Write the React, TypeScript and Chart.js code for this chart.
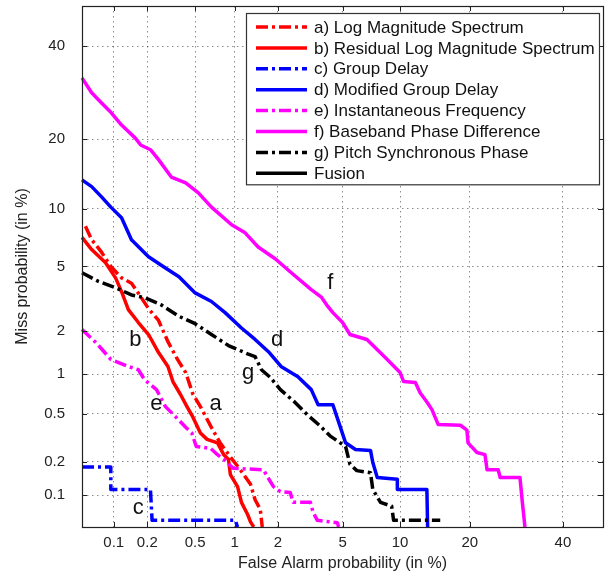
import React, { useEffect, useRef } from 'react';
import { Chart, registerables, LinearScale } from 'chart.js';

Chart.register(...registerables);

// ---------- axis ----------
const TICKS = [0.1, 0.2, 0.5, 1, 2, 5, 10, 20, 40];
const AXIS_MIN = 0.05;
const AXIS_MAX = 50;

// ---------- data (False alarm %, Miss %) ----------
const aFA = [0.054, 0.062, 0.077, 0.094, 0.118, 0.145, 0.171, 0.205, 0.25, 0.3, 0.36, 0.42, 0.48, 0.55, 0.66, 0.78, 0.93, 1.1, 1.3, 1.4, 1.52, 1.57];
const aMiss = [8.2, 7.0, 6.0, 5.0, 4.3, 4.0, 3.4, 2.8, 2.35, 1.7, 1.28, 1.03, 0.71, 0.57, 0.4, 0.29, 0.22, 0.17, 0.126, 0.091, 0.074, 0.05];

const bFA = [0.05, 0.062, 0.084, 0.104, 0.118, 0.136, 0.167, 0.205, 0.25, 0.3, 0.33, 0.38, 0.43, 0.48, 0.55, 0.62, 0.745, 0.83, 0.9, 0.93, 1.05, 1.12, 1.24, 1.3, 1.37];
const bMiss = [7.2, 6.2, 5.25, 4.3, 3.56, 2.76, 2.28, 1.9, 1.43, 1.14, 0.885, 0.71, 0.57, 0.47, 0.35, 0.31, 0.29, 0.23, 0.21, 0.154, 0.12, 0.086, 0.066, 0.056, 0.05];

const cFA = [0.05, 0.094, 0.094, 0.213, 0.22, 1.01, 1.05];
const cMiss = [0.18, 0.18, 0.113, 0.113, 0.058, 0.058, 0.05];

const dFA = [0.05, 0.062, 0.077, 0.094, 0.118, 0.145, 0.205, 0.286, 0.37, 0.5, 0.67, 0.85, 1.12, 1.4, 1.73, 2.1, 2.7, 3.27, 3.6, 4.4, 4.7, 5.2, 5.9, 7.1, 7.3, 7.7, 9.7, 9.7, 13.3, 13.4];
const dMiss = [13.6, 12.7, 11.4, 10.2, 9.06, 7.0, 5.66, 4.9, 4.36, 3.5, 3.1, 2.64, 2.1, 1.76, 1.45, 1.14, 0.96, 0.77, 0.59, 0.59, 0.45, 0.29, 0.255, 0.25, 0.197, 0.145, 0.14, 0.113, 0.113, 0.05];

const eFA = [0.05, 0.068, 0.094, 0.136, 0.167, 0.19, 0.24, 0.286, 0.35, 0.42, 0.47, 0.51, 0.66, 0.745, 0.83, 0.93, 0.98, 1.6, 1.7, 1.87, 2.08, 2.41, 2.52, 3.23, 3.36, 3.56, 4.67, 4.75];
const eMiss = [2.05, 1.68, 1.28, 1.14, 1.08, 0.91, 0.77, 0.57, 0.47, 0.39, 0.35, 0.27, 0.26, 0.23, 0.21, 0.185, 0.175, 0.17, 0.148, 0.12, 0.108, 0.106, 0.086, 0.086, 0.069, 0.058, 0.055, 0.05];

const fFA = [0.05, 0.062, 0.077, 0.095, 0.118, 0.157, 0.175, 0.213, 0.25, 0.32, 0.42, 0.53, 0.67, 0.95, 1.19, 1.47, 1.93, 2.45, 3.27, 3.76, 4.1, 4.4, 5.0, 5.5, 6.8, 7.5, 8.65, 10.0, 10.4, 11.8, 12.4, 13.3, 14.0, 14.9, 18.4, 19.5, 19.7, 21.3, 22.8, 23.2, 25.4, 25.8, 30.0, 30.5, 31.1];
const fMiss = [32.5, 29.2, 27, 25, 22.6, 20.2, 19.0, 18.2, 16.6, 14.0, 13.2, 11.9, 10.2, 8.35, 7.6, 6.4, 5.5, 4.6, 3.66, 3.3, 2.9, 2.64, 2.28, 1.9, 1.76, 1.55, 1.28, 1.03, 0.885, 0.87, 0.73, 0.62, 0.54, 0.41, 0.405, 0.37, 0.29, 0.24, 0.23, 0.17, 0.17, 0.145, 0.145, 0.088, 0.05];

const gFA = [0.05, 0.072, 0.104, 0.145, 0.19, 0.26, 0.37, 0.5, 0.67, 0.9, 1.24, 1.4, 1.55, 1.78, 2.08, 2.57, 3.1, 3.7, 4.25, 5.2, 5.5, 6.0, 7.1, 7.3, 8.0, 9.1, 9.3, 15.2];
const gMiss = [4.6, 4.1, 3.76, 3.4, 3.27, 2.97, 2.5, 2.24, 1.9, 1.6, 1.4, 1.34, 1.08, 0.95, 0.77, 0.62, 0.49, 0.4, 0.33, 0.27, 0.19, 0.167, 0.16, 0.113, 0.086, 0.079, 0.058, 0.058];

const fusionFA: number[] = [];
const fusionMiss: number[] = [];

const SERIES_LABELS = [
  'a) Log Magnitude Spectrum',
  'b) Residual Log Magnitude Spectrum',
  'c) Group Delay',
  'd) Modified Group Delay',
  'e) Instantaneous Frequency',
  'f) Baseband Phase Difference',
  'g) Pitch Synchronous Phase',
  'Fusion',
];

// curve annotation letters (position in %)
const NOTE_TEXT = ['a', 'b', 'c', 'd', 'e', 'f', 'g'];
const NOTE_FA = [0.72, 0.157, 0.167, 1.98, 0.24, 4.25, 1.25];
const NOTE_MISS = [0.6, 1.76, 0.077, 1.76, 0.6, 4.0, 1.03];

// ---------- probit helpers ----------
function probit(p: number): number {
  const a = [-3.969683028665376e1, 2.209460984245205e2, -2.759285104469687e2, 1.38357751867269e2, -3.066479806614716e1, 2.506628277459239];
  const b = [-5.447609879822406e1, 1.615858368580409e2, -1.556989798598866e2, 6.680131188771972e1, -1.328068155288572e1];
  const c = [-7.784894002430293e-3, -3.223964580411365e-1, -2.400758277161838, -2.549671348535291, 4.374664141464968, 2.938163982698783];
  const d = [7.784695709041462e-3, 3.224671290700398e-1, 2.445134137142996, 3.754408661907416];
  const pl = 0.02425;
  if (p <= 0) return -10;
  if (p >= 1) return 10;
  let q: number, r: number;
  if (p < pl) {
    q = Math.sqrt(-2 * Math.log(p));
    return (((((c[0] * q + c[1]) * q + c[2]) * q + c[3]) * q + c[4]) * q + c[5]) / ((((d[0] * q + d[1]) * q + d[2]) * q + d[3]) * q + 1);
  }
  if (p <= 1 - pl) {
    q = p - 0.5;
    r = q * q;
    return ((((((a[0] * r + a[1]) * r + a[2]) * r + a[3]) * r + a[4]) * r + a[5]) * q) / (((((b[0] * r + b[1]) * r + b[2]) * r + b[3]) * r + b[4]) * r + 1);
  }
  q = Math.sqrt(-2 * Math.log(1 - p));
  return -(((((c[0] * q + c[1]) * q + c[2]) * q + c[3]) * q + c[4]) * q + c[5]) / ((((d[0] * q + d[1]) * q + d[2]) * q + d[3]) * q + 1);
}

function normCdf(z: number): number {
  const t = 1 / (1 + 0.3275911 * Math.abs(z) / Math.SQRT2);
  const y = 1 - (((((1.061405429 * t - 1.453152027) * t + 1.421413741) * t - 0.284496736) * t + 0.254829592) * t) * Math.exp(-(z * z) / 2);
  return z >= 0 ? 0.5 * (1 + y) : 0.5 * (1 - y);
}

class ProbitScale extends LinearScale {
  static id = 'probit';
  determineDataLimits() {
    (this as any).min = AXIS_MIN;
    (this as any).max = AXIS_MAX;
  }
  buildTicks() {
    return TICKS.map((v) => ({ value: v }));
  }
  getPixelForValue(value: number) {
    const pmin = probit((this as any).min / 100);
    const pmax = probit((this as any).max / 100);
    return this.getPixelForDecimal((probit(value / 100) - pmin) / (pmax - pmin));
  }
  getValueForPixel(pixel: number) {
    const pmin = probit((this as any).min / 100);
    const pmax = probit((this as any).max / 100);
    const dec = this.getDecimalForPixel(pixel);
    return 100 * normCdf(pmin + dec * (pmax - pmin));
  }
}
Chart.register(ProbitScale as any);

const FONT = '"Liberation Sans", Arial, Helvetica, sans-serif';
const DASHDOT = [12, 4, 3, 4];

function pts(xs: number[], ys: number[]) {
  return xs.map((x, i) => ({ x, y: ys[i] }));
}

const frameTicksPlugin = {
  id: 'frameTicks',
  afterDatasetsDraw(chart: any) {
    const { ctx, chartArea: ca } = chart;
    const xs = chart.scales.x;
    const ys = chart.scales.y;
    ctx.save();
    ctx.strokeStyle = '#222';
    ctx.lineWidth = 1;
    ctx.setLineDash([]);
    ctx.beginPath();
    const len = 5;
    TICKS.forEach((t) => {
      const px = Math.round(xs.getPixelForValue(t)) + 0.5;
      ctx.moveTo(px, ca.bottom);
      ctx.lineTo(px, ca.bottom - len);
      ctx.moveTo(px, ca.top);
      ctx.lineTo(px, ca.top + len);
      const py = Math.round(ys.getPixelForValue(t)) + 0.5;
      ctx.moveTo(ca.left, py);
      ctx.lineTo(ca.left + len, py);
      ctx.moveTo(ca.right, py);
      ctx.lineTo(ca.right - len, py);
    });
    ctx.stroke();
    ctx.lineWidth = 1.2;
    ctx.strokeRect(Math.round(ca.left) + 0.5, Math.round(ca.top) + 0.5, Math.round(ca.right - ca.left), Math.round(ca.bottom - ca.top));
    ctx.restore();
  },
};

const notesLegendPlugin = {
  id: 'notesLegend',
  afterDraw(chart: any) {
    const { ctx, chartArea: ca } = chart;
    const xs = chart.scales.x;
    const ys = chart.scales.y;
    ctx.save();
    // curve letters
    ctx.fillStyle = '#111';
    ctx.font = `22px ${FONT}`;
    ctx.textAlign = 'center';
    ctx.textBaseline = 'middle';
    NOTE_TEXT.forEach((t, i) => {
      ctx.fillText(t, xs.getPixelForValue(NOTE_FA[i]), ys.getPixelForValue(NOTE_MISS[i]));
    });
    // legend
    const l = ca.left + 164;
    const r = ca.right - 4;
    const top = ca.top + 7;
    const rowH = 20.9;
    const n = chart.data.datasets.length;
    const b = top + 14 + rowH * (n - 1) + 11;
    ctx.fillStyle = '#fff';
    ctx.fillRect(l, top, r - l, b - top);
    ctx.strokeStyle = '#333';
    ctx.lineWidth = 1.2;
    ctx.setLineDash([]);
    ctx.strokeRect(l + 0.5, top + 0.5, r - l, b - top);
    ctx.font = `17px ${FONT}`;
    ctx.textAlign = 'left';
    ctx.textBaseline = 'middle';
    chart.data.datasets.forEach((ds: any, i: number) => {
      const y = top + 14 + rowH * i;
      ctx.strokeStyle = ds.borderColor;
      ctx.lineWidth = ds.borderWidth;
      ctx.setLineDash(ds.borderDash || []);
      ctx.beginPath();
      ctx.moveTo(l + 10, y);
      ctx.lineTo(l + 61, y);
      ctx.stroke();
      ctx.setLineDash([]);
      ctx.fillStyle = '#111';
      ctx.fillText(ds.label, l + 68, y + 1);
    });
    ctx.restore();
  },
};

export default function App() {
  const ref = useRef<HTMLCanvasElement | null>(null);
  useEffect(() => {
    if (!ref.current) return;
    const mk = (label: string, xs: number[], ys: number[], color: string, dashed: boolean, i: number) => ({
      label,
      data: pts(xs, ys),
      borderColor: color,
      backgroundColor: color,
      borderWidth: 3.5,
      borderDash: dashed ? DASHDOT : [],
      borderCapStyle: 'butt',
      borderJoinStyle: 'round',
      pointRadius: 0,
      fill: false,
      tension: 0,
      order: -i,
    });
    const chart = new Chart(ref.current, {
      type: 'line',
      data: {
        datasets: [
          mk(SERIES_LABELS[0], aFA, aMiss, '#ff0000', true, 0),
          mk(SERIES_LABELS[1], bFA, bMiss, '#ff0000', false, 1),
          mk(SERIES_LABELS[2], cFA, cMiss, '#0000ff', true, 2),
          mk(SERIES_LABELS[3], dFA, dMiss, '#0000ff', false, 3),
          mk(SERIES_LABELS[4], eFA, eMiss, '#ff00ff', true, 4),
          mk(SERIES_LABELS[5], fFA, fMiss, '#ff00ff', false, 5),
          mk(SERIES_LABELS[6], gFA, gMiss, '#000000', true, 6),
          mk(SERIES_LABELS[7], fusionFA, fusionMiss, '#000000', false, 7),
        ] as any,
      },
      options: {
        responsive: false,
        animation: false,
        events: [],
        layout: { padding: { top: 6, right: 6, left: 0, bottom: 0 } },
        plugins: { legend: { display: false }, tooltip: { enabled: false } },
        scales: {
          x: {
            type: 'probit' as any,
            position: 'bottom',
            afterFit: (s: any) => {
              s.height = 50;
              s.paddingLeft = 0;
              s.paddingRight = 0;
            },
            grid: { color: 'rgba(0,0,0,0.45)', lineWidth: 1, drawTicks: false },
            border: { display: false, dash: [1.5, 3.5] },
            ticks: {
              autoSkip: false,
              maxRotation: 0,
              padding: 7,
              color: '#222',
              font: { family: FONT, size: 15 },
              callback: (v: any) => String(v),
            },
            title: {
              display: true,
              text: 'False Alarm probability (in %)',
              color: '#222',
              font: { family: FONT, size: 16 },
              padding: { top: 0, bottom: 4 },
            },
          },
          y: {
            type: 'probit' as any,
            position: 'left',
            afterFit: (s: any) => {
              s.width = 82;
              s.paddingTop = 0;
              s.paddingBottom = 0;
            },
            grid: { color: 'rgba(0,0,0,0.45)', lineWidth: 1, drawTicks: false },
            border: { display: false, dash: [1.5, 3.5] },
            ticks: {
              autoSkip: false,
              padding: 17,
              color: '#222',
              font: { family: FONT, size: 15 },
              callback: (v: any) => String(v),
            },
            title: {
              display: true,
              text: 'Miss probability (in %)',
              color: '#222',
              font: { family: FONT, size: 16 },
              padding: { top: 13, bottom: 0 },
            },
          },
        } as any,
      },
      plugins: [frameTicksPlugin, notesLegendPlugin],
    } as any);
    return () => chart.destroy();
  }, []);
  return (
    <canvas
      ref={ref}
      width={609}
      height={577}
      style={{ position: 'absolute', left: 0, top: 0, width: 609, height: 577 }}
    />
  );
}
